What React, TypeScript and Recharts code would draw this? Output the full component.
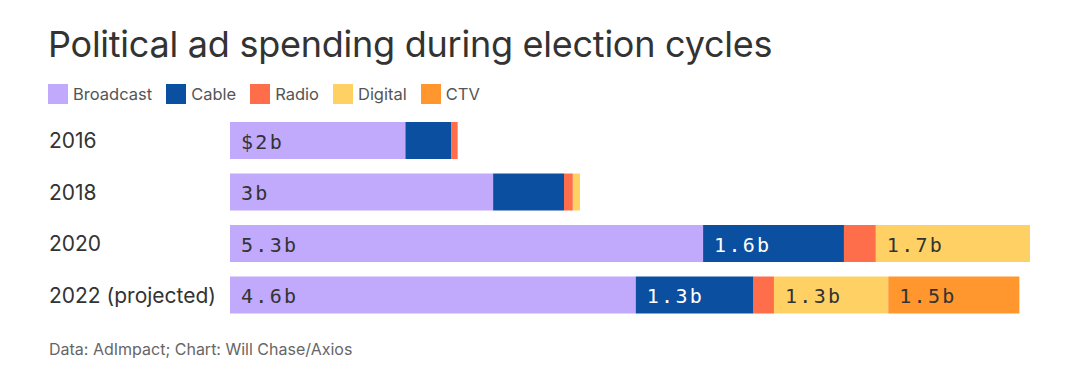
import React from "react";
import { BarChart, Bar, XAxis, YAxis, LabelList } from "recharts";

const categories = ["2016", "2018", "2020", "2022 (projected)"];
const broadcast = [1.98, 2.97, 5.34, 4.58];
const cable = [0.52, 0.8, 1.59, 1.33];
const radio = [0.07, 0.1, 0.36, 0.23];
const digital = [0, 0.08, 1.74, 1.29];
const ctv = [0, 0, 0, 1.48];

const broadcastLabels = ["$2b", "3b", "5.3b", "4.6b"];
const cableLabels = ["", "", "1.6b", "1.3b"];
const radioLabels = ["", "", "", ""];
const digitalLabels = ["", "", "1.7b", "1.3b"];
const ctvLabels = ["", "", "", "1.5b"];

const seriesNames = ["Broadcast", "Cable", "Radio", "Digital", "CTV"];
const colors = ["#c1aafc", "#0b4fa0", "#ff6e4a", "#ffd165", "#ff962e"];
const keys = ["broadcast", "cable", "radio", "digital", "ctv"];
const labelColors = ["#333333", "#ffffff", "#333333", "#333333", "#333333"];

const data = categories.map((c, i) => ({
  year: c,
  broadcast: broadcast[i],
  cable: cable[i],
  radio: radio[i],
  digital: digital[i],
  ctv: ctv[i],
  broadcastLabel: broadcastLabels[i],
  cableLabel: cableLabels[i],
  radioLabel: radioLabels[i],
  digitalLabel: digitalLabels[i],
  ctvLabel: ctvLabels[i],
}));

const sans = "Inter, 'Noto Sans', sans-serif";
const mono = "'DejaVu Sans Mono', 'Liberation Mono', monospace";

const makeLabel = (s: number) => (props: any) => {
  const { x, y, height, value } = props;
  if (!value) return null;
  return (
    <text
      x={Number(x) + 11}
      y={Number(y) + Number(height) / 2 + 1}
      dominantBaseline="central"
      fontFamily={mono}
      fontSize={20}
      letterSpacing={2.3}
      fill={labelColors[s]}
    >
      {value}
    </text>
  );
};

const YTick = (props: any) => {
  const { y, payload } = props;
  return (
    <text x={49} y={y} dominantBaseline="central" fontFamily={sans} fontSize={21} fill="#333333">
      {payload.value}
    </text>
  );
};

export default function App() {
  return (
    <div style={{ position: "absolute", left: 0, top: 0, width: 1067, height: 390, background: "#fff" }}>
      <div
        style={{
          position: "absolute",
          left: 48,
          top: 22,
          fontFamily: sans,
          fontSize: 36,
          color: "#333333",
          whiteSpace: "nowrap",
          letterSpacing: -0.25,
        }}
      >
        Political ad spending during election cycles
      </div>
      <div
        style={{
          position: "absolute",
          left: 48,
          top: 84,
          display: "flex",
          alignItems: "center",
          fontFamily: sans,
          fontSize: 16.5,
          color: "#555555",
        }}
      >
        {seriesNames.map((n, i) => (
          <div key={n} style={{ display: "flex", alignItems: "center", marginRight: 14 }}>
            <div style={{ width: 20, height: 20, background: colors[i], marginRight: 5 }} />
            <span>{n}</span>
          </div>
        ))}
      </div>
      <div style={{ position: "absolute", left: 0, top: 0 }}>
        <BarChart
          width={1067}
          height={390}
          data={data}
          layout="vertical"
          margin={{ top: 115, right: 37, bottom: 69, left: 0 }}
          barSize={37}
        >
          <XAxis type="number" domain={[0, 9]} hide />
          <YAxis
            type="category"
            dataKey="year"
            width={230}
            axisLine={false}
            tickLine={false}
            tick={<YTick />}
          />
          {keys.map((k, s) => (
            <Bar key={k} dataKey={k} stackId="a" fill={colors[s]} isAnimationActive={false}>
              <LabelList dataKey={k + "Label"} content={makeLabel(s)} />
            </Bar>
          ))}
        </BarChart>
      </div>
      <div
        style={{
          position: "absolute",
          left: 49,
          top: 339,
          fontFamily: sans,
          fontSize: 16,
          color: "#666666",
          whiteSpace: "nowrap",
        }}
      >
        Data: AdImpact; Chart: Will Chase/Axios
      </div>
    </div>
  );
}
